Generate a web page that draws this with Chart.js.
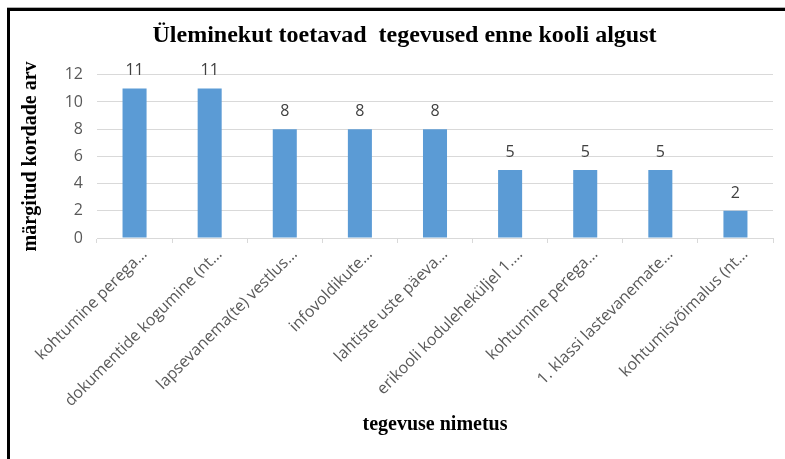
<!DOCTYPE html>
<html>
<head>
<meta charset="utf-8">
<script src="https://cdn.jsdelivr.net/npm/chart.js"></script>
<style>
  html, body { margin: 0; padding: 0; background: #fff; }
  #wrap { position: relative; width: 785px; height: 459px; overflow: hidden; }
  #frame {
    position: absolute; left: 7px; top: 8px; right: -10px; bottom: -10px;
    border-left: 3px solid #000; border-top: 3px solid #000;
    box-shadow: 0 -1px 0 #b0b0b0;
    pointer-events: none;
  }
</style>
</head>
<body>
<div id="wrap">
  <canvas id="chart" width="785" height="459"></canvas>
  <div id="frame"></div>
</div>
<script>
// data
const categories = [
  "kohtumine perega…",
  "dokumentide kogumine (nt…",
  "lapsevanema(te) vestlus…",
  "infovoldikute…",
  "lahtiste uste päeva…",
  "erikooli koduleheküljel 1.…",
  "kohtumine perega…",
  "1. klassi lastevanemate…",
  "kohtumisvõimalus (nt…"
];
const counts = [11, 11, 8, 8, 8, 5, 5, 5, 2];
const yTicks = [0, 2, 4, 6, 8, 10, 12];

// leading em space nudges the centred title a little to the right, as in the original
const titleText = "\u2003Üleminekut toetavad  tegevused enne kooli algust";
const yTitle = "märgitud kordade arv";
const xTitle = "tegevuse nimetus";

// value labels above the bars
const barLabels = {
  id: "barLabels",
  afterDatasetsDraw(chart) {
    const ctx = chart.ctx;
    const meta = chart.getDatasetMeta(0);
    ctx.save();
    ctx.font = "16px 'Open Sans'";
    ctx.fillStyle = "#404040";
    ctx.textAlign = "center";
    ctx.textBaseline = "alphabetic";
    meta.data.forEach(function (bar, i) {
      ctx.fillText(String(counts[i]), bar.x, bar.y - 13);
    });
    ctx.restore();
  }
};

const ctx = document.getElementById("chart").getContext("2d");
const chart = new Chart(ctx, {
  type: "bar",
  data: {
    labels: categories,
    datasets: [{
      data: counts,
      backgroundColor: "#5B9BD5",
      barPercentage: 0.32,
      categoryPercentage: 1
    }]
  },
  options: {
    responsive: false,
    animation: false,
    devicePixelRatio: 1,
    layout: { padding: { left: 12, right: 12, top: 0, bottom: 0 } },
    plugins: {
      legend: { display: false },
      tooltip: { enabled: false },
      title: {
        display: true,
        text: titleText,
        color: "#000",
        font: { family: "'Liberation Serif'", size: 24, weight: "bold" },
        padding: { top: 21, bottom: 25 }
      }
    },
    scales: {
      y: {
        min: 0,
        max: 12,
        afterFit: function (scale) { scale.width = 85; },
        afterBuildTicks: function (scale) {
          scale.ticks = yTicks.map(function (v) { return { value: v }; });
        },
        border: { display: false },
        grid: { color: "#D9D9D9", drawTicks: false },
        ticks: {
          color: "#595959",
          padding: 14,
          font: { family: "'Open Sans'", size: 16 }
        },
        title: {
          display: true,
          text: yTitle,
          color: "#000",
          font: { family: "'Liberation Serif'", size: 20, weight: "bold" },
          padding: { top: 7, bottom: 0 }
        }
      },
      x: {
        afterFit: function (scale) { scale.height = 221; },
        border: { display: true, color: "#D9D9D9" },
        grid: { drawOnChartArea: false, color: "#D9D9D9", tickLength: 5 },
        ticks: {
          color: "#595959",
          autoSkip: false,
          minRotation: 45,
          maxRotation: 45,
          padding: 2,
          labelOffset: 10,
          font: { family: "'Open Sans'", size: 16 }
        },
        title: {
          display: true,
          text: xTitle,
          color: "#000",
          font: { family: "'Liberation Serif'", size: 20, weight: "bold" },
          padding: { top: 0, bottom: 22 }
        }
      }
    }
  },
  plugins: [barLabels]
});
</script>
</body>
</html>
